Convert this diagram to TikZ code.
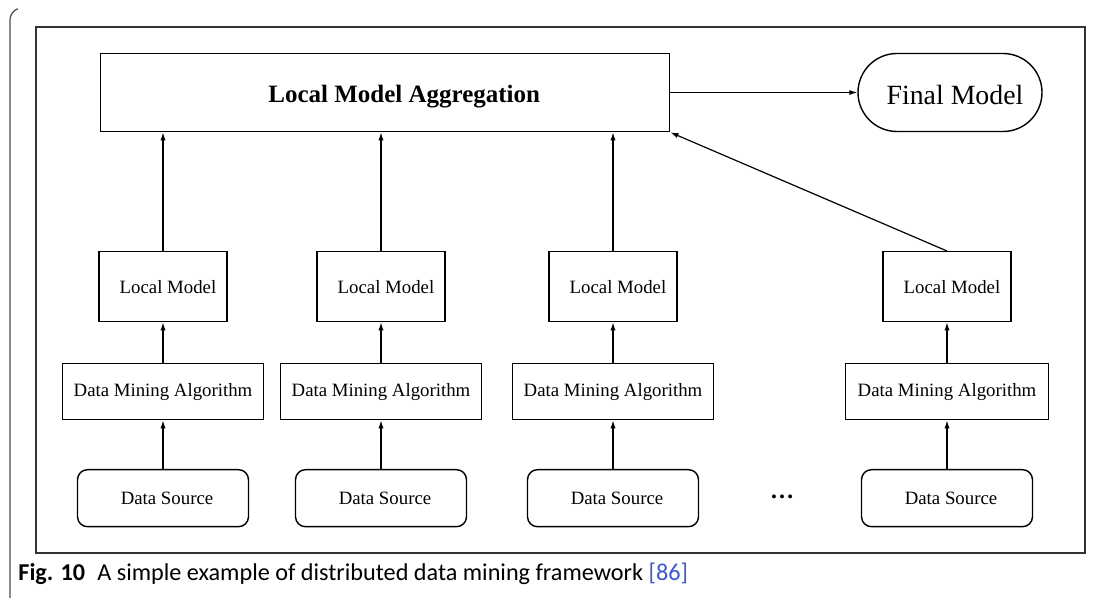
\documentclass[tikz,border=0pt]{standalone}
\usepackage{fontspec}
\setmainfont{Liberation Serif}
\newfontfamily\capfont{Carlito}
\usetikzlibrary{arrows.meta,shapes.misc}
\definecolor{refblue}{RGB}{60,90,200}
\begin{document}
\begin{tikzpicture}[x=0.5pt,y=-0.5pt,
  box/.style={draw,line width=0.7pt,inner sep=0pt,anchor=north west},
  rbox/.style={box,rounded corners=5pt},
  arr/.style={line width=0.6pt,-{Latex[length=4pt,width=2.6pt]}},
  smalltxt/.style={font=\fontsize{9.4}{11}\selectfont}]
\useasboundingbox (0,0) rectangle (1100,598);
% page edge artefact
\draw[line width=0.6pt,black!70] (10,598) -- (10,20) arc[start angle=180,end angle=250,radius=12];
% frame
\draw[line width=0.7pt,black!80] (36,27) rectangle (1085,553);
% aggregation
\node[box,minimum width=284.5pt,minimum height=39pt,font=\bfseries\fontsize{12.5}{14}\selectfont] (agg) at (100,53) {\raisebox{-2pt}[\height][\depth]{\hspace*{19pt}Local Model Aggregation}};
\node[draw,line width=0.7pt,rounded rectangle,minimum width=92pt,minimum height=39pt,inner sep=0pt,font=\fontsize{13.9}{15}\selectfont] (final) at (950,92.5) {\raisebox{-1pt}[\height][\depth]{\hspace*{5pt}Final Model}};
\draw[arr] (agg.east |- final.west) -- (final.west);
% columns
\foreach \i/\cx/\dw in {1/163/100.5,2/381/100.5,3/613/100.5,4/947/101.5}{
  \node[box,anchor=north,minimum width=64pt,minimum height=35pt,smalltxt] (lm\i) at (\cx,251) {\hspace*{5pt}Local Model};
  \node[box,anchor=north,minimum width=\dw pt,minimum height=28pt,smalltxt] (dma\i) at (\cx,363) {Data Mining Algorithm};
  \node[rbox,anchor=north,minimum width=85.5pt,minimum height=28.5pt,smalltxt] (ds\i) at (\cx,469) {\hspace*{4pt}Data Source};
  \draw[arr] (ds\i) -- (dma\i);
  \draw[arr] (dma\i) -- (lm\i);
}
\foreach \i in {1,2,3}{
  \draw[arr] (lm\i.north) -- (lm\i.north |- agg.south);
}
\draw[arr] (lm4.north) -- (agg.south east);
\node[font=\bfseries\fontsize{12}{14}\selectfont] (dots) at (782,497) {\ldots};
% caption
\node[anchor=base west,inner sep=0pt,font=\capfont\fontsize{12.1}{14}\selectfont] (cap) at (18,581) {\textbf{Fig. 10}\hspace{0.5em}A simple example of distributed data mining framework \textcolor{refblue}{[86]}};
\end{tikzpicture}
\end{document}
